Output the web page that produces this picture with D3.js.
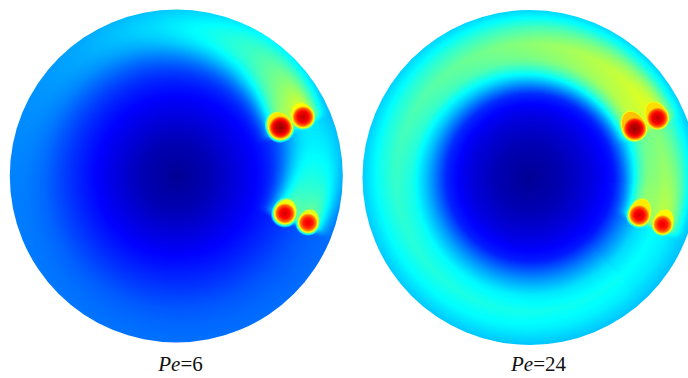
<!DOCTYPE html>
<html>
<head>
<meta charset="utf-8">
<script src="https://cdn.jsdelivr.net/npm/d3@7"></script>
<style>
  html, body { margin: 0; padding: 0; background: #fff; }
  svg { display: block; }
</style>
</head>
<body>
<svg id="chart" width="688" height="378"></svg>
<script>
// Péclet number of each panel
const pecletNumbers = [6, 24];

// background concentration against r/R
const radialStops = [0, 0.2, 0.35, 0.5, 0.6, 0.7, 0.8, 0.9, 1.0];
const backgroundPe6 = [0.02, 0.05, 0.09, 0.13, 0.155, 0.18, 0.205, 0.22, 0.23];
const backgroundPe24 = [0.02, 0.05, 0.09, 0.14, 0.24, 0.33, 0.37, 0.35, 0.31];

// particles: r/R, angle (deg, clockwise from +x on screen), size (r/R), peak value
const particleRadius = [0.69, 0.84, 0.69, 0.84];
const particleAngle = [-25, -25, 19, 19.5];
const particleSize = [0.068, 0.064, 0.062, 0.058];
const particlePeak = [0.98, 0.94, 0.92, 0.9];

// particle halo profile (distance / size -> fraction of peak)
const haloStops = [0, 0.5, 0.8, 1.0, 1.2, 1.45];
const haloValues = [1, 0.94, 0.84, 0.68, 0.43, 0.15];
const tailCap = [0.66, 0.7];
const tailStretch = [1.3, 1.55];

// wake parameters per panel
const wakeAmplitude = [0.3, 0.32];
const wakeLength = [0.85, 1.3];
const wakeWidth = [0.085, 0.075];
const wakeDiffusion = [0.012, 0.006];
const wakeDrift = [0.18, -0.02];
const wakeNearBoost = [0.1, 0.1];
const wakeCeiling = [2.0, 0.3];

const backgrounds = [backgroundPe6, backgroundPe24];

// jet colour map
const jet = d3.scaleLinear()
  .domain([0, 0.125, 0.375, 0.625, 0.875, 1])
  .range(['#000080', '#0000ff', '#00ffff', '#ffff00', '#ff0000', '#800000'])
  .clamp(true);

const lut = d3.range(1024).map(i => d3.rgb(jet(i / 1023)));

const halo = d3.scaleLinear().domain(haloStops).range(haloValues).clamp(true);

const panels = [
  { cx: 176.3, cy: 176, R: 166.5, labelX: 180.5 },
  { cx: 530, cy: 177.5, R: 167.5, labelX: 538.5 }
];

const svg = d3.select('#chart');
const defs = svg.append('defs');

function field(k) {
  const bg = d3.scaleLinear().domain(radialStops).range(backgrounds[k]).clamp(true);
  const w0 = wakeWidth[k];
  const cap = wakeCeiling[k];
  return function (u, v) {
    const r = Math.hypot(u, v);
    const th = Math.atan2(v, u);

    // wakes trailing behind each particle along its orbit
    let wake = 0;
    for (let i = 0; i < particleRadius.length; i++) {
      const phi = particleAngle[i] * Math.PI / 180;
      let d = phi - th;
      while (d < -0.5) d += 2 * Math.PI;
      while (d >= 2 * Math.PI - 0.5) d -= 2 * Math.PI;
      const s = d * particleRadius[i];
      const a = particleSize[i];
      let along, w = w0, rc = particleRadius[i];
      if (s < 0) {
        const t = Math.max(0, (s + a) / a);
        along = t * t * (3 - 2 * t) * (1 + wakeNearBoost[k]);
      } else {
        w = Math.sqrt(w0 * w0 + 2 * wakeDiffusion[k] * s);
        along = Math.exp(-s / wakeLength[k]) * w0 / w * (1 + wakeNearBoost[k] * Math.exp(-s / 0.12));
        rc = Math.min(0.93, rc + wakeDrift[k] * Math.min(s, 1));
      }
      const dr = (r - rc) / w;
      wake += wakeAmplitude[k] * along * Math.exp(-dr * dr);
    }
    let val = bg(r) + cap * (1 - Math.exp(-wake / cap));

    // particles: round hot core, halo drawn out into a tail
    for (let i = 0; i < particleRadius.length; i++) {
      const phi = particleAngle[i] * Math.PI / 180;
      const px = particleRadius[i] * Math.cos(phi);
      const py = particleRadius[i] * Math.sin(phi);
      const du = u - px, dv = v - py;
      const tx = Math.sin(phi), ty = -Math.cos(phi);
      const sA = du * tx + dv * ty;
      const n = -du * ty + dv * tx;
      const a = particleSize[i];
      const dist = Math.hypot(sA, n) / a;
      if (dist < 1.45) val = Math.max(val, halo(dist) * particlePeak[i]);
      if (sA > 0) {
        const dt = Math.hypot(sA / tailStretch[k], n) / a;
        if (dt < 1.45) val = Math.max(val, Math.min(tailCap[k], halo(dt)) * particlePeak[i]);
      }
    }
    return Math.min(1, Math.max(0, val));
  };
}

panels.forEach((p, k) => {
  const f = field(k);
  const x0 = Math.floor(p.cx - p.R) - 1;
  const y0 = Math.floor(p.cy - p.R) - 1;
  const w = Math.ceil(2 * p.R) + 3;
  const h = w;
  const xs = d3.scaleLinear().domain([-1, 1]).range([p.cx - p.R, p.cx + p.R]);
  const ys = d3.scaleLinear().domain([-1, 1]).range([p.cy - p.R, p.cy + p.R]);

  const canvas = document.createElement('canvas');
  canvas.width = w;
  canvas.height = h;
  const ctx = canvas.getContext('2d');
  const img = ctx.createImageData(w, h);
  for (let j = 0; j < h; j++) {
    const v = ys.invert(y0 + j + 0.5);
    for (let i = 0; i < w; i++) {
      const u = xs.invert(x0 + i + 0.5);
      const c = lut[Math.round(f(u, v) * 1023)];
      const o = (j * w + i) * 4;
      img.data[o] = c.r;
      img.data[o + 1] = c.g;
      img.data[o + 2] = c.b;
      img.data[o + 3] = 255;
    }
  }
  ctx.putImageData(img, 0, 0);

  defs.append('clipPath')
    .attr('id', 'disk' + k)
    .append('circle')
    .attr('cx', xs(0))
    .attr('cy', ys(0))
    .attr('r', p.R);

  const g = svg.append('g').attr('class', 'panel');
  g.append('image')
    .attr('x', x0)
    .attr('y', y0)
    .attr('width', w)
    .attr('height', h)
    .attr('href', canvas.toDataURL())
    .attr('clip-path', `url(#disk${k})`);

  const label = g.append('text')
    .attr('x', p.labelX)
    .attr('y', 371)
    .attr('text-anchor', 'middle')
    .attr('font-family', '"Liberation Serif", "Times New Roman", serif')
    .attr('font-size', 21)
    .attr('fill', '#111');
  label.append('tspan').attr('font-style', 'italic').text('Pe');
  label.append('tspan').text('=' + pecletNumbers[k]);
});
</script>
</body>
</html>
